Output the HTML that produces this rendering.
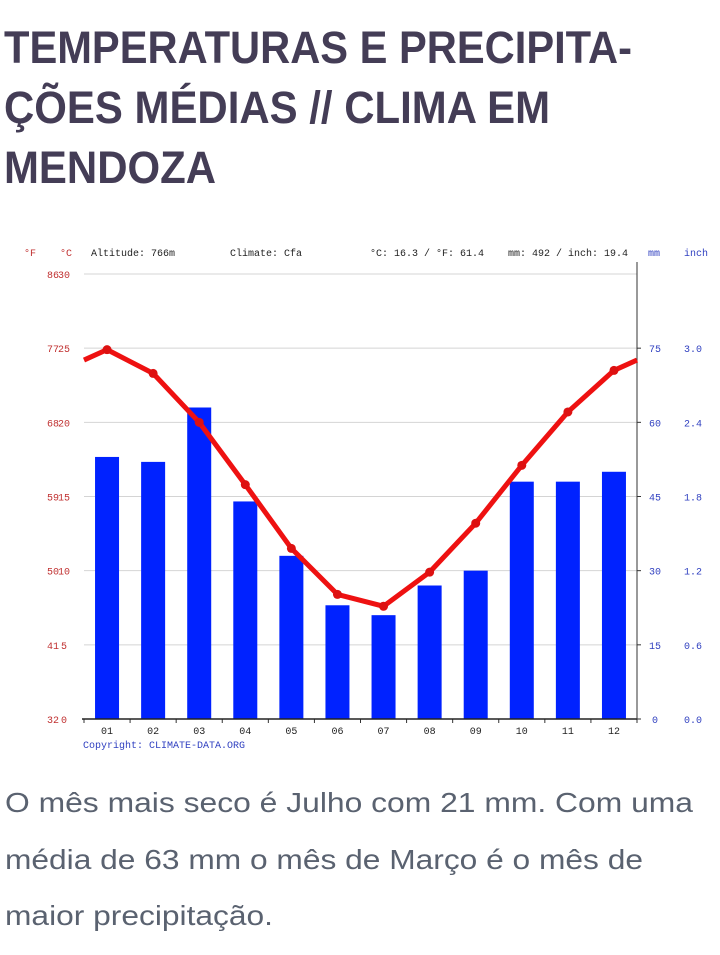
<!DOCTYPE html>
<html><head><meta charset="utf-8"><style>
html,body{margin:0;padding:0;background:#fff;width:720px;height:955px;overflow:hidden}
svg{display:block}
</style></head><body>
<svg width="720" height="955">
<g font-family="Liberation Sans, sans-serif" font-weight="bold" font-size="45" fill="#443d56">
<text x="4" y="63" textLength="628" lengthAdjust="spacingAndGlyphs">TEMPERATURAS E PRECIPITA-</text>
<text x="4" y="123" textLength="546" lengthAdjust="spacingAndGlyphs">ÇÕES MÉDIAS // CLIMA EM</text>
<text x="4" y="183" textLength="212" lengthAdjust="spacingAndGlyphs">MENDOZA</text>
</g>
<g id="chart"></g>
<g font-family="Liberation Sans, sans-serif" font-size="28" fill="#5a6270">
<text x="5" y="812" textLength="688" lengthAdjust="spacingAndGlyphs">O mês mais seco é Julho com 21 mm. Com uma</text>
<text x="5" y="869" textLength="638" lengthAdjust="spacingAndGlyphs">média de 63 mm o mês de Março é o mês de</text>
<text x="5" y="925" textLength="268" lengthAdjust="spacingAndGlyphs">maior precipitação.</text>
</g>
</svg>
<script>
const months=["01","02","03","04","05","06","07","08","09","10","11","12"];
const precipMm=[53,52,63,44,33,23,21,27,30,48,48,50];
const tempC=[24.9,23.3,20.0,15.8,11.5,8.4,7.6,9.9,13.2,17.1,20.7,23.5];
const cTicks=[0,5,10,15,20,25,30];
const fTicks=["32","41","50","59","68","77","86"];
const mmTicks=["0","15","30","45","60","75"];
const inchTicks=["0.0","0.6","1.2","1.8","2.4","3.0"];

const NS="http://www.w3.org/2000/svg";
const g=document.getElementById('chart');
const L=84,R=637,B=719,T=274;
const yC=c=>B-(B-T)*c/30;
const yMm=m=>yC(m/3);
const bw=(R-L)/12;
const xM=i=>L+bw*(i+0.5);
function mk(tag,a,txt){const e=document.createElementNS(NS,tag);for(const k in a)e.setAttribute(k,a[k]);if(txt!==undefined)e.textContent=txt;g.appendChild(e);return e;}
const mono="Liberation Mono, DejaVu Sans Mono, monospace";

cTicks.forEach((c,i)=>{
  if(c>0){const l=mk('line',{x1:L,x2:R,y1:yC(c),y2:yC(c),stroke:'#d4d4d4','stroke-width':1});
  
  }
  const t=mk('text',{x:53,y:yC(c)+4,'font-family':mono,'font-size':10,fill:'#c03030','text-anchor':'middle'},fTicks[i]);
  
  
  const t2=mk('text',{x:64,y:yC(c)+4,'font-family':mono,'font-size':10,fill:'#c03030','text-anchor':'middle'},String(c));
  
  
});
mmTicks.forEach((m,i)=>{
  const y=yMm(+m);
  const t=mk('text',{x:655,y:y+4,'font-family':mono,'font-size':10,fill:'#3040c0','text-anchor':'middle'},m);
  
  
  const t2=mk('text',{x:693,y:y+4,'font-family':mono,'font-size':10,fill:'#3040c0','text-anchor':'middle'},inchTicks[i]);
  
  
  const tk=mk('line',{x1:R,x2:R+4,y1:y,y2:y,stroke:'#333'});
  
  
});
precipMm.forEach((v,i)=>{
  const b=mk('rect',{x:xM(i)-12,y:yMm(v),width:24,height:B-yMm(v),fill:'#0022ff'});
  
  
  const t=mk('text',{x:xM(i),y:B+15,'font-family':mono,'font-size':10,fill:'#222','text-anchor':'middle'},months[i]);
  
  
});
for(let i=0;i<=12;i++){const tk=mk('line',{x1:L+bw*i,x2:L+bw*i,y1:B,y2:B+4,stroke:'#333'});

}
const ax=mk('line',{x1:L-2,x2:R,y1:B,y2:B,stroke:'#222','stroke-width':1.5});


const ra=mk('line',{x1:R,x2:R,y1:262,y2:B,stroke:'#333'});


// temperature line, extended to edges
const y0=yC((tempC[0]+tempC[11])/2);
let pts=[[L,y0]];tempC.forEach((c,i)=>pts.push([xM(i),yC(c)]));pts.push([R,y0]);
const pl=mk('polyline',{points:pts.map(p=>p.join(',')).join(' '),fill:'none',stroke:'#ee1111','stroke-width':5,'stroke-linejoin':'round'});


tempC.forEach((c,i)=>{const d=mk('circle',{cx:xM(i),cy:yC(c),r:4.5,fill:'#dd1111'});

});
const hdr=[[24,'°F','#c03030'],[60,'°C','#c03030'],[91,'Altitude: 766m','#222'],[230,'Climate: Cfa','#222'],[370,'°C: 16.3 / °F: 61.4','#222'],[508,'mm: 492 / inch: 19.4','#222'],[648,'mm','#3040c0'],[684,'inch','#3040c0']];
hdr.forEach(h=>{const t=mk('text',{x:h[0],y:256,'font-family':mono,'font-size':10,fill:h[2]},h[1]);

});
const cp=mk('text',{x:83,y:748,'font-family':mono,'font-size':10,fill:'#3040c0'},'Copyright: CLIMATE-DATA.ORG');


</script>
</body></html>
